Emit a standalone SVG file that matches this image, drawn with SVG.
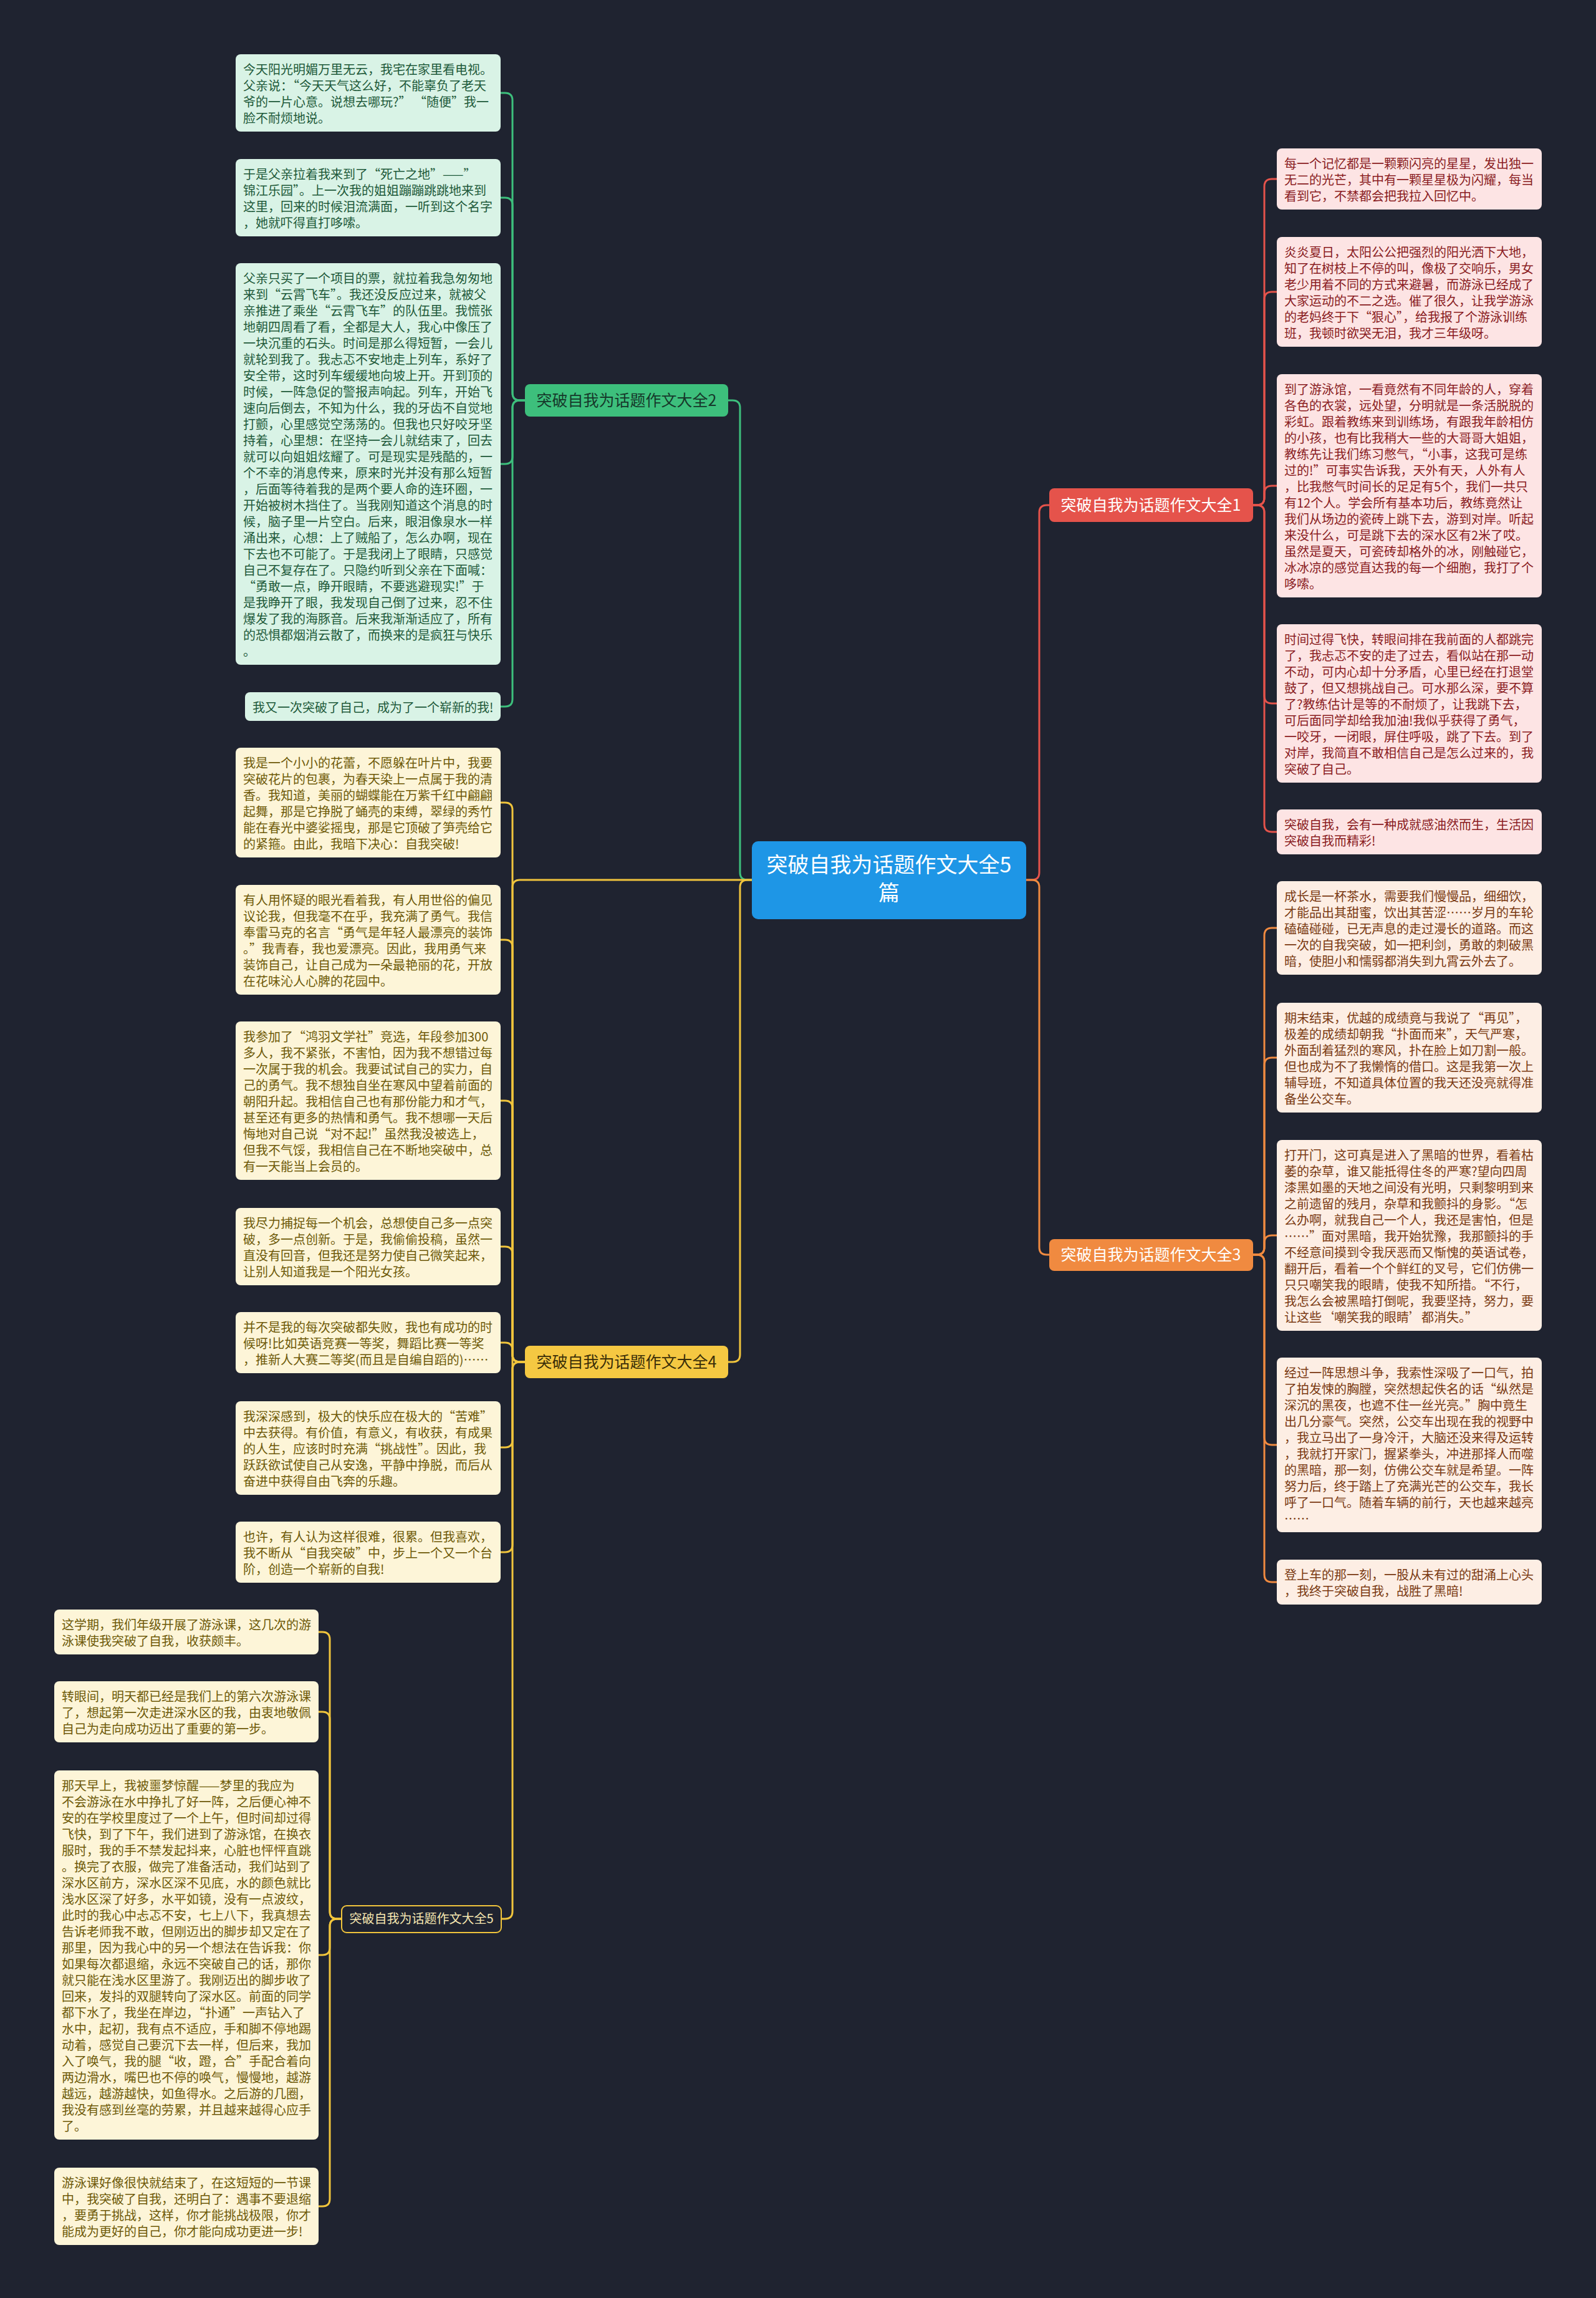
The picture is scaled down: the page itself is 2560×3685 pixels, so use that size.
<svg xmlns="http://www.w3.org/2000/svg" width="2560" height="3685" viewBox="0 0 2560 3685">
<style>
.t{font-family:"Noto Sans CJK SC","Noto Sans",sans-serif;font-size:20px}
.gt{fill:#1e5a3a}.yt{fill:#6e5a08}.rt{fill:#8a1c22}.ot{fill:#7a3a12}
.gb{fill:#d9f3e6}.yb{fill:#fdf5d8}.rb{fill:#fde4e4}.ob{fill:#fdeee4}
.c{fill:none;stroke-width:3;stroke-linecap:round}
.cg{stroke:#3dbf7c}.cy{stroke:#f0c43c}.cr{stroke:#e5534b}.co{stroke:#f08a40}
.bl{font-family:"Noto Sans CJK SC","Noto Sans",sans-serif;font-size:25px}
</style>
<rect width="2560" height="3685" fill="#1f2330"/>
<g id="connectors">
<path class="c cr" d="M1646,1411 H1655 Q1667,1411 1667,1399 V822 Q1667,810 1679,810 H1683"/>
<path class="c co" d="M1646,1411 H1655 Q1667,1411 1667,1423 V2000 Q1667,2012 1679,2012 H1683"/>
<path class="c cg" d="M1206,1411 H1199 Q1187,1411 1187,1399 V654 Q1187,642 1175,642 H1168"/>
<path class="c cy" d="M1206,1411 H1199 Q1187,1411 1187,1423 V2172 Q1187,2184 1175,2184 H1168"/>
<path class="c cy" d="M1206,1411 H834 Q822,1411 822,1423 V3065 Q822,3077 810,3077 H804"/>
<path class="c cg" d="M842,642 H834 Q822,642 822,630 V161 Q822,149 810,149 H803"/>
<path class="c cg" d="M842,642 H834 Q822,642 822,630 V329 Q822,317 810,317 H803"/>
<path class="c cg" d="M842,642 H834 Q822,642 822,654 V732 Q822,744 810,744 H803"/>
<path class="c cg" d="M842,642 H834 Q822,642 822,654 V1121 Q822,1133 810,1133 H803"/>
<path class="c cy" d="M842,2184 H834 Q822,2184 822,2172 V1299 Q822,1287 810,1287 H803"/>
<path class="c cy" d="M842,2184 H834 Q822,2184 822,2172 V1519 Q822,1507 810,1507 H803"/>
<path class="c cy" d="M842,2184 H834 Q822,2184 822,2172 V1777 Q822,1765 810,1765 H803"/>
<path class="c cy" d="M842,2184 H834 Q822,2184 822,2172 V2011 Q822,1999 810,1999 H803"/>
<path class="c cy" d="M842,2184 H834 Q822,2184 822,2172 V2165 Q822,2153 810,2153 H803"/>
<path class="c cy" d="M842,2184 H834 Q822,2184 822,2196 V2309 Q822,2321 810,2321 H803"/>
<path class="c cy" d="M842,2184 H834 Q822,2184 822,2196 V2477 Q822,2489 810,2489 H803"/>
<path class="c cy" d="M548,3077 H541 Q529,3077 529,3065 V2629 Q529,2617 517,2617 H511"/>
<path class="c cy" d="M548,3077 H541 Q529,3077 529,3065 V2757 Q529,2745 517,2745 H511"/>
<path class="c cy" d="M548,3077 H541 Q529,3077 529,3089 V3123 Q529,3135 517,3135 H511"/>
<path class="c cy" d="M548,3077 H541 Q529,3077 529,3089 V3526 Q529,3538 517,3538 H511"/>
<path class="c cr" d="M2010,810 H2016 Q2028,810 2028,798 V299 Q2028,287 2040,287 H2048"/>
<path class="c cr" d="M2010,810 H2016 Q2028,810 2028,798 V480 Q2028,468 2040,468 H2048"/>
<path class="c cr" d="M2010,810 H2016 Q2028,810 2028,798 V791 Q2028,779 2040,779 H2048"/>
<path class="c cr" d="M2010,810 H2016 Q2028,810 2028,822 V1116 Q2028,1128 2040,1128 H2048"/>
<path class="c cr" d="M2010,810 H2016 Q2028,810 2028,822 V1322 Q2028,1334 2040,1334 H2048"/>
<path class="c co" d="M2010,2012 H2016 Q2028,2012 2028,2000 V1500 Q2028,1488 2040,1488 H2048"/>
<path class="c co" d="M2010,2012 H2016 Q2028,2012 2028,2000 V1708 Q2028,1696 2040,1696 H2048"/>
<path class="c co" d="M2010,2012 H2016 Q2028,2012 2028,2000 V1993 Q2028,1981 2040,1981 H2048"/>
<path class="c co" d="M2010,2012 H2016 Q2028,2012 2028,2024 V2305 Q2028,2317 2040,2317 H2048"/>
<path class="c co" d="M2010,2012 H2016 Q2028,2012 2028,2024 V2525 Q2028,2537 2040,2537 H2048"/>
</g>

<g id="center">
<rect x="1206" y="1349" width="440" height="125" rx="10" fill="#1e96e6"/>
<text class="t" fill="#ffffff" text-anchor="middle" style="font-size:34px"><tspan x="1426" y="1399">突破自我为话题作文大全5</tspan><tspan x="1426" y="1444">篇</tspan></text>
</g>

<g id="branch1">
<rect x="1683" y="783" width="327" height="54" rx="8" fill="#e5534b"/>
<text class="bl" fill="#ffffff" x="1846" y="819" text-anchor="middle">突破自我为话题作文大全1</text>
</g>
<g id="branch3">
<rect x="1683" y="1987" width="327" height="51" rx="8" fill="#f08a40"/>
<text class="bl" fill="#ffffff" x="1846" y="2021" text-anchor="middle">突破自我为话题作文大全3</text>
</g>
<g id="branch2">
<rect x="842" y="616" width="326" height="52" rx="8" fill="#3dbf7c"/>
<text class="bl" fill="#16382a" x="1005" y="651" text-anchor="middle">突破自我为话题作文大全2</text>
</g>
<g id="branch4">
<rect x="842" y="2158" width="326" height="52" rx="8" fill="#f5c842"/>
<text class="bl" fill="#3a2e08" x="1005" y="2193" text-anchor="middle">突破自我为话题作文大全4</text>
</g>
<g id="branch5">
<rect x="548" y="3056" width="256" height="43" rx="8" fill="#1f2330" stroke="#f0c43c" stroke-width="2"/>
<text class="t" fill="#f5e6b0" x="676" y="3084" text-anchor="middle">突破自我为话题作文大全5</text>
</g>

<g id="nA">
<rect class="gb" x="378" y="87" width="425" height="124" rx="8"/>
<text class="t gt"><tspan x="390" y="119">今天阳光明媚万里无云，我宅在家里看电视。</tspan><tspan x="390" dy="26">父亲说：“今天天气这么好，不能辜负了老天</tspan><tspan x="390" dy="26">爷的一片心意。说想去哪玩?” “随便”我一</tspan><tspan x="390" dy="26">脸不耐烦地说。</tspan></text>
</g>
<g id="nB">
<rect class="gb" x="378" y="255" width="425" height="124" rx="8"/>
<text class="t gt"><tspan x="390" y="287">于是父亲拉着我来到了“死亡之地”——”</tspan><tspan x="390" dy="26">锦江乐园”。上一次我的姐姐蹦蹦跳跳地来到</tspan><tspan x="390" dy="26">这里，回来的时候泪流满面，一听到这个名字</tspan><tspan x="390" dy="26">，她就吓得直打哆嗦。</tspan></text>
</g>
<g id="nC">
<rect class="gb" x="378" y="422" width="425" height="644" rx="8"/>
<text class="t gt"><tspan x="390" y="454">父亲只买了一个项目的票，就拉着我急匆匆地</tspan><tspan x="390" dy="26">来到“云霄飞车”。我还没反应过来，就被父</tspan><tspan x="390" dy="26">亲推进了乘坐“云霄飞车”的队伍里。我慌张</tspan><tspan x="390" dy="26">地朝四周看了看，全都是大人，我心中像压了</tspan><tspan x="390" dy="26">一块沉重的石头。时间是那么得短暂，一会儿</tspan><tspan x="390" dy="26">就轮到我了。我忐忑不安地走上列车，系好了</tspan><tspan x="390" dy="26">安全带，这时列车缓缓地向坡上开。开到顶的</tspan><tspan x="390" dy="26">时候，一阵急促的警报声响起。列车，开始飞</tspan><tspan x="390" dy="26">速向后倒去，不知为什么，我的牙齿不自觉地</tspan><tspan x="390" dy="26">打颤，心里感觉空荡荡的。但我也只好咬牙坚</tspan><tspan x="390" dy="26">持着，心里想：在坚持一会儿就结束了，回去</tspan><tspan x="390" dy="26">就可以向姐姐炫耀了。可是现实是残酷的，一</tspan><tspan x="390" dy="26">个不幸的消息传来，原来时光并没有那么短暂</tspan><tspan x="390" dy="26">，后面等待着我的是两个要人命的连环圈，一</tspan><tspan x="390" dy="26">开始被树木挡住了。当我刚知道这个消息的时</tspan><tspan x="390" dy="26">候，脑子里一片空白。后来，眼泪像泉水一样</tspan><tspan x="390" dy="26">涌出来，心想：上了贼船了，怎么办啊，现在</tspan><tspan x="390" dy="26">下去也不可能了。于是我闭上了眼睛，只感觉</tspan><tspan x="390" dy="26">自己不复存在了。只隐约听到父亲在下面喊：</tspan><tspan x="390" dy="26">“勇敢一点，睁开眼睛，不要逃避现实!”于</tspan><tspan x="390" dy="26">是我睁开了眼，我发现自己倒了过来，忍不住</tspan><tspan x="390" dy="26">爆发了我的海豚音。后来我渐渐适应了，所有</tspan><tspan x="390" dy="26">的恐惧都烟消云散了，而换来的是疯狂与快乐</tspan><tspan x="390" dy="26">。</tspan></text>
</g>
<g id="nD">
<rect class="gb" x="393" y="1110" width="410" height="46" rx="8"/>
<text class="t gt"><tspan x="405" y="1142">我又一次突破了自己，成为了一个崭新的我!</tspan></text>
</g>

<g id="nE">
<rect class="yb" x="378" y="1199" width="425" height="176" rx="8"/>
<text class="t yt"><tspan x="390" y="1231">我是一个小小的花蕾，不愿躲在叶片中，我要</tspan><tspan x="390" dy="26">突破花片的包裹，为春天染上一点属于我的清</tspan><tspan x="390" dy="26">香。我知道，美丽的蝴蝶能在万紫千红中翩翩</tspan><tspan x="390" dy="26">起舞，那是它挣脱了蛹壳的束缚，翠绿的秀竹</tspan><tspan x="390" dy="26">能在春光中婆娑摇曳，那是它顶破了笋壳给它</tspan><tspan x="390" dy="26">的紧箍。由此，我暗下决心：自我突破!</tspan></text>
</g>
<g id="nF">
<rect class="yb" x="378" y="1419" width="425" height="176" rx="8"/>
<text class="t yt"><tspan x="390" y="1451">有人用怀疑的眼光看着我，有人用世俗的偏见</tspan><tspan x="390" dy="26">议论我，但我毫不在乎，我充满了勇气。我信</tspan><tspan x="390" dy="26">奉雷马克的名言“勇气是年轻人最漂亮的装饰</tspan><tspan x="390" dy="26">。”我青春，我也爱漂亮。因此，我用勇气来</tspan><tspan x="390" dy="26">装饰自己，让自己成为一朵最艳丽的花，开放</tspan><tspan x="390" dy="26">在花味沁人心脾的花园中。</tspan></text>
</g>
<g id="nG">
<rect class="yb" x="378" y="1638" width="425" height="254" rx="8"/>
<text class="t yt"><tspan x="390" y="1670">我参加了“鸿羽文学社”竞选，年段参加300</tspan><tspan x="390" dy="26">多人，我不紧张，不害怕，因为我不想错过每</tspan><tspan x="390" dy="26">一次属于我的机会。我要试试自己的实力，自</tspan><tspan x="390" dy="26">己的勇气。我不想独自坐在寒风中望着前面的</tspan><tspan x="390" dy="26">朝阳升起。我相信自己也有那份能力和才气，</tspan><tspan x="390" dy="26">甚至还有更多的热情和勇气。我不想哪一天后</tspan><tspan x="390" dy="26">悔地对自己说“对不起!”虽然我没被选上，</tspan><tspan x="390" dy="26">但我不气馁，我相信自己在不断地突破中，总</tspan><tspan x="390" dy="26">有一天能当上会员的。</tspan></text>
</g>
<g id="nH">
<rect class="yb" x="378" y="1937" width="425" height="124" rx="8"/>
<text class="t yt"><tspan x="390" y="1969">我尽力捕捉每一个机会，总想使自己多一点突</tspan><tspan x="390" dy="26">破，多一点创新。于是，我偷偷投稿，虽然一</tspan><tspan x="390" dy="26">直没有回音，但我还是努力使自己微笑起来，</tspan><tspan x="390" dy="26">让别人知道我是一个阳光女孩。</tspan></text>
</g>
<g id="nI">
<rect class="yb" x="378" y="2104" width="425" height="98" rx="8"/>
<text class="t yt"><tspan x="390" y="2136">并不是我的每次突破都失败，我也有成功的时</tspan><tspan x="390" dy="26">候呀!比如英语竞赛一等奖，舞蹈比赛一等奖</tspan><tspan x="390" dy="26">，推新人大赛二等奖(而且是自编自蹈的)……</tspan></text>
</g>
<g id="nJ">
<rect class="yb" x="378" y="2247" width="425" height="150" rx="8"/>
<text class="t yt"><tspan x="390" y="2279">我深深感到，极大的快乐应在极大的“苦难”</tspan><tspan x="390" dy="26">中去获得。有价值，有意义，有收获，有成果</tspan><tspan x="390" dy="26">的人生，应该时时充满“挑战性”。因此，我</tspan><tspan x="390" dy="26">跃跃欲试使自己从安逸，平静中挣脱，而后从</tspan><tspan x="390" dy="26">奋进中获得自由飞奔的乐趣。</tspan></text>
</g>
<g id="nK">
<rect class="yb" x="378" y="2440" width="425" height="98" rx="8"/>
<text class="t yt"><tspan x="390" y="2472">也许，有人认为这样很难，很累。但我喜欢，</tspan><tspan x="390" dy="26">我不断从“自我突破”中，步上一个又一个台</tspan><tspan x="390" dy="26">阶，创造一个崭新的自我!</tspan></text>
</g>

<g id="nL">
<rect class="yb" x="87" y="2581" width="424" height="72" rx="8"/>
<text class="t yt"><tspan x="99" y="2613">这学期，我们年级开展了游泳课，这几次的游</tspan><tspan x="99" dy="26">泳课使我突破了自我，收获颇丰。</tspan></text>
</g>
<g id="nM">
<rect class="yb" x="87" y="2696" width="424" height="98" rx="8"/>
<text class="t yt"><tspan x="99" y="2728">转眼间，明天都已经是我们上的第六次游泳课</tspan><tspan x="99" dy="26">了，想起第一次走进深水区的我，由衷地敬佩</tspan><tspan x="99" dy="26">自己为走向成功迈出了重要的第一步。</tspan></text>
</g>
<g id="nN">
<rect class="yb" x="87" y="2839" width="424" height="592" rx="8"/>
<text class="t yt"><tspan x="99" y="2871">那天早上，我被噩梦惊醒——梦里的我应为</tspan><tspan x="99" dy="26">不会游泳在水中挣扎了好一阵，之后便心神不</tspan><tspan x="99" dy="26">安的在学校里度过了一个上午，但时间却过得</tspan><tspan x="99" dy="26">飞快，到了下午，我们进到了游泳馆，在换衣</tspan><tspan x="99" dy="26">服时，我的手不禁发起抖来，心脏也怦怦直跳</tspan><tspan x="99" dy="26">。换完了衣服，做完了准备活动，我们站到了</tspan><tspan x="99" dy="26">深水区前方，深水区深不见底，水的颜色就比</tspan><tspan x="99" dy="26">浅水区深了好多，水平如镜，没有一点波纹，</tspan><tspan x="99" dy="26">此时的我心中忐忑不安，七上八下，我真想去</tspan><tspan x="99" dy="26">告诉老师我不敢，但刚迈出的脚步却又定在了</tspan><tspan x="99" dy="26">那里，因为我心中的另一个想法在告诉我：你</tspan><tspan x="99" dy="26">如果每次都退缩，永远不突破自己的话，那你</tspan><tspan x="99" dy="26">就只能在浅水区里游了。我刚迈出的脚步收了</tspan><tspan x="99" dy="26">回来，发抖的双腿转向了深水区。前面的同学</tspan><tspan x="99" dy="26">都下水了，我坐在岸边，“扑通”一声钻入了</tspan><tspan x="99" dy="26">水中，起初，我有点不适应，手和脚不停地踢</tspan><tspan x="99" dy="26">动着，感觉自己要沉下去一样，但后来，我加</tspan><tspan x="99" dy="26">入了唤气，我的腿“收，蹬，合”手配合着向</tspan><tspan x="99" dy="26">两边滑水，嘴巴也不停的唤气，慢慢地，越游</tspan><tspan x="99" dy="26">越远，越游越快，如鱼得水。之后游的几圈，</tspan><tspan x="99" dy="26">我没有感到丝毫的劳累，并且越来越得心应手</tspan><tspan x="99" dy="26">了。</tspan></text>
</g>
<g id="nO">
<rect class="yb" x="87" y="3476" width="424" height="124" rx="8"/>
<text class="t yt"><tspan x="99" y="3508">游泳课好像很快就结束了，在这短短的一节课</tspan><tspan x="99" dy="26">中，我突破了自我，还明白了：遇事不要退缩</tspan><tspan x="99" dy="26">，要勇于挑战，这样，你才能挑战极限，你才</tspan><tspan x="99" dy="26">能成为更好的自己，你才能向成功更进一步!</tspan></text>
</g>

<g id="nP">
<rect class="rb" x="2048" y="238" width="425" height="98" rx="8"/>
<text class="t rt"><tspan x="2060" y="270">每一个记忆都是一颗颗闪亮的星星，发出独一</tspan><tspan x="2060" dy="26">无二的光芒，其中有一颗星星极为闪耀，每当</tspan><tspan x="2060" dy="26">看到它，不禁都会把我拉入回忆中。</tspan></text>
</g>
<g id="nQ">
<rect class="rb" x="2048" y="380" width="425" height="176" rx="8"/>
<text class="t rt"><tspan x="2060" y="412">炎炎夏日，太阳公公把强烈的阳光洒下大地，</tspan><tspan x="2060" dy="26">知了在树枝上不停的叫，像极了交响乐，男女</tspan><tspan x="2060" dy="26">老少用着不同的方式来避暑，而游泳已经成了</tspan><tspan x="2060" dy="26">大家运动的不二之选。催了很久，让我学游泳</tspan><tspan x="2060" dy="26">的老妈终于下“狠心”，给我报了个游泳训练</tspan><tspan x="2060" dy="26">班，我顿时欲哭无泪，我才三年级呀。</tspan></text>
</g>
<g id="nR">
<rect class="rb" x="2048" y="600" width="425" height="358" rx="8"/>
<text class="t rt"><tspan x="2060" y="632">到了游泳馆，一看竟然有不同年龄的人，穿着</tspan><tspan x="2060" dy="26">各色的衣裳，远处望，分明就是一条活脱脱的</tspan><tspan x="2060" dy="26">彩虹。跟着教练来到训练场，有跟我年龄相仿</tspan><tspan x="2060" dy="26">的小孩，也有比我稍大一些的大哥哥大姐姐，</tspan><tspan x="2060" dy="26">教练先让我们练习憋气，“小事，这我可是练</tspan><tspan x="2060" dy="26">过的!”可事实告诉我，天外有天，人外有人</tspan><tspan x="2060" dy="26">，比我憋气时间长的足足有5个，我们一共只</tspan><tspan x="2060" dy="26">有12个人。学会所有基本功后，教练竟然让</tspan><tspan x="2060" dy="26">我们从场边的瓷砖上跳下去，游到对岸。听起</tspan><tspan x="2060" dy="26">来没什么，可是跳下去的深水区有2米了哎。</tspan><tspan x="2060" dy="26">虽然是夏天，可瓷砖却格外的冰，刚触碰它，</tspan><tspan x="2060" dy="26">冰冰凉的感觉直达我的每一个细胞，我打了个</tspan><tspan x="2060" dy="26">哆嗦。</tspan></text>
</g>
<g id="nS">
<rect class="rb" x="2048" y="1001" width="425" height="254" rx="8"/>
<text class="t rt"><tspan x="2060" y="1033">时间过得飞快，转眼间排在我前面的人都跳完</tspan><tspan x="2060" dy="26">了，我忐忑不安的走了过去，看似站在那一动</tspan><tspan x="2060" dy="26">不动，可内心却十分矛盾，心里已经在打退堂</tspan><tspan x="2060" dy="26">鼓了，但又想挑战自己。可水那么深，要不算</tspan><tspan x="2060" dy="26">了?教练估计是等的不耐烦了，让我跳下去，</tspan><tspan x="2060" dy="26">可后面同学却给我加油!我似乎获得了勇气，</tspan><tspan x="2060" dy="26">一咬牙，一闭眼，屏住呼吸，跳了下去。到了</tspan><tspan x="2060" dy="26">对岸，我简直不敢相信自己是怎么过来的，我</tspan><tspan x="2060" dy="26">突破了自己。</tspan></text>
</g>
<g id="nT">
<rect class="rb" x="2048" y="1298" width="425" height="72" rx="8"/>
<text class="t rt"><tspan x="2060" y="1330">突破自我，会有一种成就感油然而生，生活因</tspan><tspan x="2060" dy="26">突破自我而精彩!</tspan></text>
</g>

<g id="nU">
<rect class="ob" x="2048" y="1413" width="425" height="150" rx="8"/>
<text class="t ot"><tspan x="2060" y="1445">成长是一杯茶水，需要我们慢慢品，细细饮，</tspan><tspan x="2060" dy="26">才能品出其甜蜜，饮出其苦涩……岁月的车轮</tspan><tspan x="2060" dy="26">磕磕碰碰，已无声息的走过漫长的道路。而这</tspan><tspan x="2060" dy="26">一次的自我突破，如一把利剑，勇敢的刺破黑</tspan><tspan x="2060" dy="26">暗，使胆小和懦弱都消失到九霄云外去了。</tspan></text>
</g>
<g id="nV">
<rect class="ob" x="2048" y="1608" width="425" height="176" rx="8"/>
<text class="t ot"><tspan x="2060" y="1640">期末结束，优越的成绩竟与我说了“再见”，</tspan><tspan x="2060" dy="26">极差的成绩却朝我“扑面而来”，天气严寒，</tspan><tspan x="2060" dy="26">外面刮着猛烈的寒风，扑在脸上如刀割一般。</tspan><tspan x="2060" dy="26">但也成为不了我懒惰的借口。这是我第一次上</tspan><tspan x="2060" dy="26">辅导班，不知道具体位置的我天还没亮就得准</tspan><tspan x="2060" dy="26">备坐公交车。</tspan></text>
</g>
<g id="nW">
<rect class="ob" x="2048" y="1828" width="425" height="306" rx="8"/>
<text class="t ot"><tspan x="2060" y="1860">打开门，这可真是进入了黑暗的世界，看着枯</tspan><tspan x="2060" dy="26">萎的杂草，谁又能抵得住冬的严寒?望向四周</tspan><tspan x="2060" dy="26">漆黑如墨的天地之间没有光明，只剩黎明到来</tspan><tspan x="2060" dy="26">之前遗留的残月，杂草和我颤抖的身影。“怎</tspan><tspan x="2060" dy="26">么办啊，就我自己一个人，我还是害怕，但是</tspan><tspan x="2060" dy="26">……”面对黑暗，我开始犹豫，我那颤抖的手</tspan><tspan x="2060" dy="26">不经意间摸到令我厌恶而又惭愧的英语试卷，</tspan><tspan x="2060" dy="26">翻开后，看着一个个鲜红的叉号，它们仿佛一</tspan><tspan x="2060" dy="26">只只嘲笑我的眼睛，使我不知所措。“不行，</tspan><tspan x="2060" dy="26">我怎么会被黑暗打倒呢，我要坚持，努力，要</tspan><tspan x="2060" dy="26">让这些‘嘲笑我的眼睛’都消失。”</tspan></text>
</g>
<g id="nX">
<rect class="ob" x="2048" y="2177" width="425" height="280" rx="8"/>
<text class="t ot"><tspan x="2060" y="2209">经过一阵思想斗争，我索性深吸了一口气，拍</tspan><tspan x="2060" dy="26">了拍发悚的胸膛，突然想起佚名的话“纵然是</tspan><tspan x="2060" dy="26">深沉的黑夜，也遮不住一丝光亮。”胸中竟生</tspan><tspan x="2060" dy="26">出几分豪气。突然，公交车出现在我的视野中</tspan><tspan x="2060" dy="26">，我立马出了一身冷汗，大脑还没来得及运转</tspan><tspan x="2060" dy="26">，我就打开家门，握紧拳头，冲进那择人而噬</tspan><tspan x="2060" dy="26">的黑暗，那一刻，仿佛公交车就是希望。一阵</tspan><tspan x="2060" dy="26">努力后，终于踏上了充满光芒的公交车，我长</tspan><tspan x="2060" dy="26">呼了一口气。随着车辆的前行，天也越来越亮</tspan><tspan x="2060" dy="26">……</tspan></text>
</g>
<g id="nY">
<rect class="ob" x="2048" y="2501" width="425" height="72" rx="8"/>
<text class="t ot"><tspan x="2060" y="2533">登上车的那一刻，一股从未有过的甜涌上心头</tspan><tspan x="2060" dy="26">，我终于突破自我，战胜了黑暗!</tspan></text>
</g>
</svg>
